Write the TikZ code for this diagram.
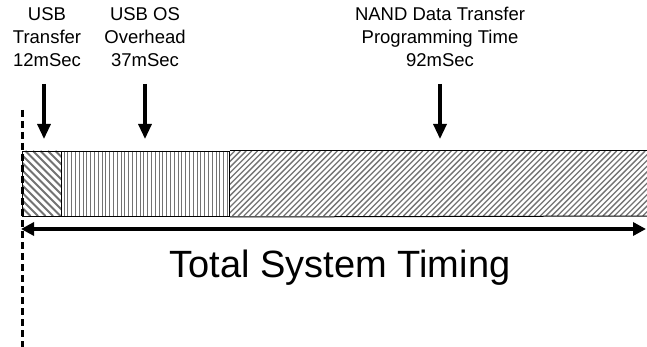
\documentclass[tikz,border=0pt]{standalone}
\usepackage{fontspec}
\setmainfont{Liberation Sans}
\usetikzlibrary{arrows.meta}
\tikzset{
  label text/.style={align=center, inner sep=0pt, anchor=north,
    font=\fontsize{18.5}{23}\selectfont},
  hatch/.style={draw=black!55, line width=1.3pt},
  segment/.style={draw=black, line width=1pt},
  pointer/.style={line width=3.2pt, -{Triangle[length=15pt,width=13pt]}},
  span/.style={line width=3.6pt, {Triangle[length=13pt,width=13pt]}-{Triangle[length=13pt,width=13pt]}},
  guide/.style={line width=3pt, dash pattern=on 7pt off 4pt},
}
\begin{document}
\begin{tikzpicture}[x=1pt,y=-1pt]
\useasboundingbox (0,0) rectangle (647,347);
\fill[white] (0,0) rectangle (647,347);

% hatching of the three time segments
\begin{scope}
  \clip (22,151) rectangle (61,216);
  \foreach \a in {-72,-64.5,...,70} \draw[hatch, line width=1.8pt] (\a,151) -- (\a+65,216);
\end{scope}
\begin{scope}
  \clip (61,151) rectangle (229,216);
  \foreach \a in {64,67.8,...,229} \draw[hatch, line width=1pt] (\a,151) -- (\a,216);
\end{scope}
\begin{scope}
  \clip (229,151) rectangle (647,216);
  \foreach \a in {229,234.7,...,720} \draw[hatch] (\a,151) -- (\a-65,216);
\end{scope}

% segment outlines
\node[segment, minimum width=39pt, minimum height=65pt, inner sep=0pt, anchor=north west] (usb) at (22,151) {};
\node[segment, minimum width=168pt, minimum height=65pt, inner sep=0pt, anchor=north west] (os) at (61,151) {};
\draw[segment] (os.north east) -- (648,151);
\draw[segment] (os.south east) -- (648,216);

% labels
\node[label text] (l1) at (47,7) {USB\\Transfer\\12mSec};
\node[label text] (l2) at (145,7) {USB OS\\Overhead\\37mSec};
\node[label text] (l3) at (440,7) {NAND Data Transfer\\Programming Time\\92mSec};

% pointers
\coordinate (p1s) at (44,84);  \coordinate (p1e) at (44,139);
\coordinate (p2s) at (145,84); \coordinate (p2e) at (145,139);
\coordinate (p3s) at (440,84); \coordinate (p3e) at (440,139);
\draw[pointer] (p1s) -- (p1e);
\draw[pointer] (p2s) -- (p2e);
\draw[pointer] (p3s) -- (p3e);

% start guide
\coordinate (gtop) at (22,110);
\coordinate (gbot) at (22,347);
\draw[guide] (gtop) -- (gbot);

% overall span
\coordinate (sl) at (21,229);
\coordinate (sr) at (646,229);
\draw[span] (sl) -- (sr);
\node[font=\fontsize{38}{44}\selectfont, anchor=base, inner sep=0pt] (total) at (340,277) {Total System Timing};
\end{tikzpicture}
\end{document}
